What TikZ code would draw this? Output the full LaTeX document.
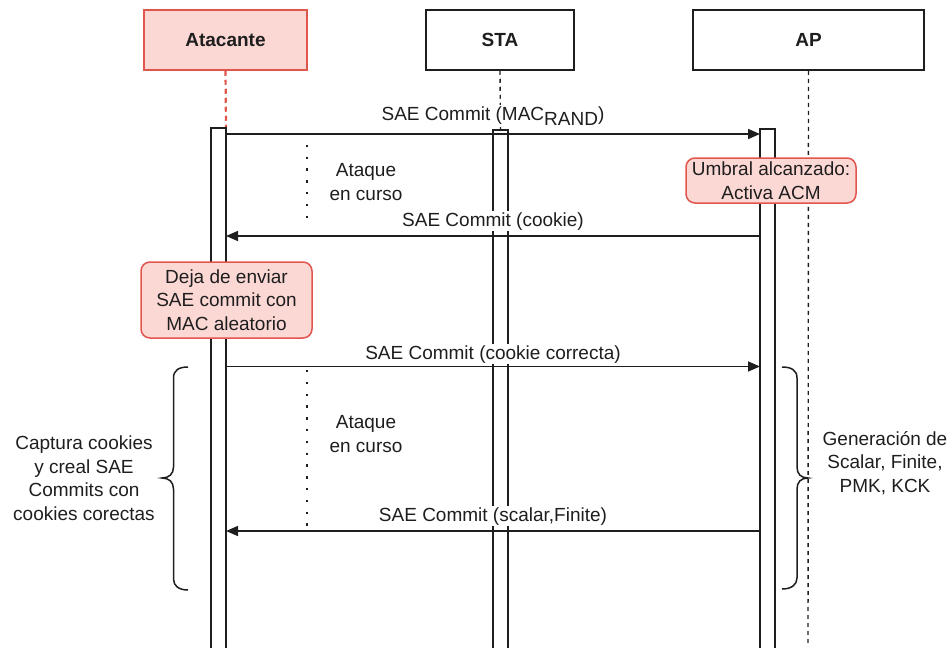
\documentclass[tikz,border=0pt]{standalone}
\usepackage{fontspec}
\setmainfont{Liberation Sans}
\usetikzlibrary{arrows.meta}
\definecolor{ink}{HTML}{1E1E1E}
\definecolor{alertfill}{HTML}{FCD8D5}
\definecolor{alertdraw}{HTML}{E0564C}
\begin{document}
\begin{tikzpicture}[x=1pt,y=-1pt,
  every node/.style={text=ink},
  txt/.style={font=\fontsize{19}{23.5}\selectfont, align=center, inner sep=0pt},
  lbl/.style={txt, fill=white, inner sep=1.5pt, anchor=base},
  actorbox/.style={draw=ink, line width=1.5pt, fill=white, minimum height=60pt,
    font=\fontsize{19}{23}\selectfont\bfseries, inner sep=0pt},
  attackbox/.style={actorbox, draw=alertdraw, fill=alertfill},
  notebox/.style={txt, draw=alertdraw, fill=alertfill, line width=1.5pt,
    rounded corners=9pt},
  lifeline/.style={draw=ink, line width=1.4pt, dash pattern=on 4pt off 4pt},
  redlife/.style={draw=alertdraw, line width=2.2pt, dash pattern=on 5pt off 4pt},
  barline/.style={draw=ink, fill=white, line width=1.5pt},
  msg/.style={draw=ink, line width=1.6pt, -{Triangle[length=12pt,width=10pt]}},
  waitline/.style={draw=ink, line width=2.4pt, dash pattern=on 2.4pt off 9.4pt},
  brace/.style={draw=ink, line width=1.5pt}]
\useasboundingbox (0,0) rectangle (950,648);

% participants
\node[attackbox, minimum width=163pt] (att) at (225.5,40) {Atacante};
\node[actorbox, minimum width=148pt] (sta) at (500,40) {STA};
\node[actorbox, minimum width=231pt] (ap) at (808.5,40) {AP};

% lifelines
\coordinate (attbar) at (226,128);
\coordinate (stabar) at (500.5,130);
\coordinate (apend) at (808,646);
\draw[redlife] (att.south) -- (attbar);
\draw[lifeline] (sta.south) -- (stabar);
\draw[lifeline] (ap.south) -- (apend);

% activation bars (open at the bottom edge)
\filldraw[barline] (211,648) -- (211,128) -- (226,128) -- (226,648);
\filldraw[barline] (493,648) -- (493,130) -- (508,130) -- (508,648);
\filldraw[barline] (760,648) -- (760,129) -- (775,129) -- (775,648);

% message end points
\coordinate (a1) at (226,134);   \coordinate (p1) at (760,134);
\coordinate (a2) at (226,236);   \coordinate (p2) at (760,236);
\coordinate (a3) at (226,366.5); \coordinate (p3) at (760,366.5);
\coordinate (a4) at (226,531);   \coordinate (p4) at (760,531);

% messages
\draw[msg] (a1) -- (p1);
\node[lbl] (l1) at (493,120) {SAE Commit (MAC\raisebox{-5pt}{RAND})};
\draw[msg] (p2) -- (a2);
\node[lbl] (l2) at (493,226) {SAE Commit (cookie)};
\draw[msg] (a3) -- (p3);
\node[lbl] (l3) at (493,359) {SAE Commit (cookie correcta)};
\draw[msg] (p4) -- (a4);
\node[lbl] (l4) at (493,521) {SAE Commit (scalar,Finite)};

% attack in progress markers
\coordinate (w1t) at (307,133); \coordinate (w1b) at (307,220);
\coordinate (w2t) at (307,370); \coordinate (w2b) at (307,532);
\draw[waitline] (w1t) -- (w1b);
\draw[waitline] (w2t) -- (w2b);
\node[txt] (wait1) at (366,182) {Ataque\\en curso};
\node[txt] (wait2) at (366,434) {Ataque\\en curso};

% notes
\node[notebox, minimum width=170pt, minimum height=45pt] (umbral) at (771,180.5)
  {Umbral alcanzado:\\Activa ACM};
\node[notebox, minimum width=171pt, minimum height=76pt] (deja) at (226.5,300)
  {Deja de enviar\\SAE commit con\\MAC aleatorio};

% braces
\draw[brace] (188,367) .. controls (179,367) and (173.5,370) .. (173.5,378)
  -- (173.5,467) .. controls (173.5,474) and (169,478) .. (162,478)
  .. controls (169,478) and (173.5,482) .. (173.5,489)
  -- (173.5,579) .. controls (173.5,586) and (179,590) .. (188,590);
\draw[brace] (782,367) .. controls (791,367) and (797,370) .. (797,378)
  -- (797,467) .. controls (797,474) and (801,478) .. (808,478)
  .. controls (801,478) and (797,482) .. (797,489)
  -- (797,578) .. controls (797,585) and (791,589) .. (782,589);
\node[txt] (capt) at (84,478) {Captura cookies\\y creal SAE\\Commits con\\cookies corectas};
\node[txt] (gen) at (885,463) {Generación de\\Scalar, Finite,\\PMK, KCK};
\end{tikzpicture}
\end{document}
